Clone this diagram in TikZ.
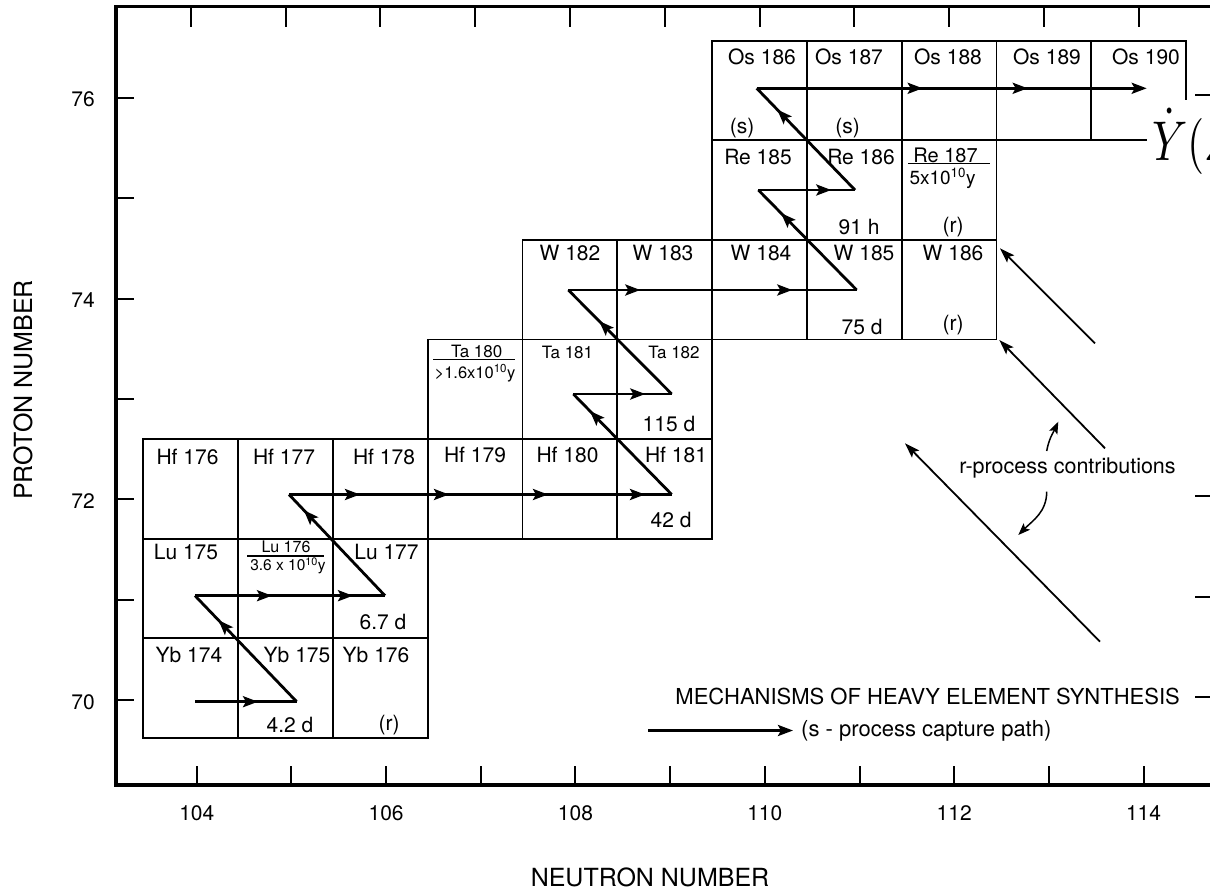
\documentclass[tikz,border=0pt]{standalone}
\usepackage{fontspec}
\setmainfont{TeX Gyre Heros}
\usepackage{graphicx}
\usetikzlibrary{arrows.meta,decorations.markings}
\newcommand{\cellbox}[2]{\draw[cellline] ({143.3+94.8*(#1-104)},{40.7+99.6*(76-#2)}) rectangle ++(94.8,99.6);}
\newcommand{\sah}{\arrow{Stealth[length=15pt,width=11pt,inset=3pt]}}
\newcommand{\seg}[3]{\draw[spath, postaction={decorate}, decoration={markings, #3}] (#1) -- (#2);}
\begin{document}
\begin{tikzpicture}[x=1pt,y=-1pt,
  lab/.style={font=\fontsize{21}{24}\selectfont, inner sep=0pt},
  sml/.style={font=\fontsize{17}{19}\selectfont, inner sep=0pt},
  tinylab/.style={font=\fontsize{15}{17}\selectfont, inner sep=0pt},
  axisline/.style={line width=3.2pt, line join=miter},
  tickline/.style={line width=2pt},
  cellline/.style={line width=1.8pt},
  spath/.style={line width=2.8pt, line cap=butt},
  rarr/.style={line width=1.8pt, -{Stealth[length=15pt,width=10pt,inset=3pt]}},
  rarrthin/.style={line width=1.5pt, -{Stealth[length=12pt,width=9pt,inset=2.5pt]}},
  fracbar/.style={line width=1.2pt}
]
\useasboundingbox (0,0) rectangle (1210,891);
\clip (0,0) rectangle (1210,891);
\fill[white] (0,0) rectangle (1210,891);

% frame
\draw[axisline] (1225,6.7) -- (116,6.7) -- (116,785) -- (1225,785);
\foreach \k in {0,...,10} {
  \draw[tickline] ({190.7+94.8*\k},6.7) -- ++(0,20);
  \draw[tickline] ({196.8+94.67*\k},785) -- ++(0,-19);
}
\foreach \z in {70,...,76} {
  \draw[tickline] (116,{97.7+100.4*(76-\z)}) -- ++(18,0);
}
\foreach \z in {70,71,72,76} {
  \draw[tickline] (1195,{94.7+100.4*(76-\z)}) -- ++(25,0);
}
\foreach \z in {70,72,74,76} {
  \node[lab, anchor=east] (yl\z) at (95,{99.5+100.4*(76-\z)}) {\z};
}
\foreach \n/\k in {104/0,106/2,108/4,110/6,112/8,114/10} {
  \node[lab] (xl\n) at ({196.8+94.67*\k},813) {\n};
}
\node[font=\fontsize{25}{28}\selectfont, rotate=90, inner sep=0pt] (ylab) at (23,390) {PROTON NUMBER};
\node[font=\fontsize{25}{28}\selectfont, inner sep=0pt] (xlab) at (650,877) {NEUTRON NUMBER};

% cells
\foreach \n in {104,105,106} {\cellbox{\n}{70} \cellbox{\n}{71}}
\foreach \n in {104,...,109} {\cellbox{\n}{72}}
\foreach \n in {107,108,109} {\cellbox{\n}{73}}
\foreach \n in {108,...,112} {\cellbox{\n}{74}}
\foreach \n in {110,111,112} {\cellbox{\n}{75}}
\foreach \n in {110,...,113} {\cellbox{\n}{76}}
\draw[cellline] (1091.3,140.3) -- (1091.3,40.7) -- (1186.1,40.7) -- (1186.1,100);
\draw[cellline] (1091.3,140.3) -- (1147,140.3);

% cell labels
\node[lab] (yb174) at (189,655) {Yb 174};
\node[lab] (yb175) at (297,655) {Yb 175};
\node[lab] (yb176) at (376,655) {Yb 176};
\node[lab] (yb175t) at (290,725) {4.2 d};
\node[lab] (yb176r) at (389,725) {(r)};
\node[lab] (lu175) at (186,552) {Lu 175};
\node[font=\fontsize{16}{18}\selectfont, inner sep=0pt] (lu176) at (286,547) {Lu 176};
\draw[fracbar] (247,556) -- (324,556);
\node[font=\fontsize{15.5}{17}\selectfont, inner sep=0pt] (lu176t) at (288,566) {3.6 x 10\textsuperscript{10}y};
\node[lab] (lu177) at (386.5,552) {Lu 177};
\node[lab] (lu177t) at (383,622) {6.7 d};
\node[lab] (hf176) at (187.5,456.5) {Hf 176};
\node[lab] (hf177) at (284,456.5) {Hf 177};
\node[lab] (hf178) at (384,456.5) {Hf 178};
\node[lab] (hf179) at (475,455) {Hf 179};
\node[lab] (hf180) at (567.5,455) {Hf 180};
\node[lab] (hf181) at (676,455) {Hf 181};
\node[lab] (hf181t) at (671,520) {42 d};
\node[sml] (ta180) at (476.7,351) {Ta 180};
\draw[fracbar] (433,359.5) -- (515,359.5);
\node[font=\fontsize{16.5}{18}\selectfont, inner sep=0pt] (ta180t) at (475,373) {>1.6x10\textsuperscript{10}y};
\node[sml] (ta181) at (567.5,352.7) {Ta 181};
\node[sml] (ta182) at (674,352.7) {Ta 182};
\node[lab] (ta182t) at (669,424) {115 d};
\node[lab] (w182) at (570,253.3) {W 182};
\node[lab] (w183) at (663,253.3) {W 183};
\node[lab] (w184) at (761,253.3) {W 184};
\node[lab] (w185) at (864,253.3) {W 185};
\node[lab] (w186) at (953,253.3) {W 186};
\node[lab] (w185t) at (862,326.7) {75 d};
\node[lab] (w186r) at (953,325) {(r)};
\node[lab] (re185) at (758,156.7) {Re 185};
\node[lab] (re186) at (861,156.7) {Re 186};
\node[font=\fontsize{20}{22}\selectfont, inner sep=0pt] (re187) at (945.5,155) {Re 187};
\draw[fracbar] (908,163.3) -- (990,163.3);
\node[font=\fontsize{19}{21}\selectfont, inner sep=0pt] (re187t) at (942.5,178.3) {5x10\textsuperscript{10}y};
\node[lab] (re186t) at (859,226.7) {91 h};
\node[lab] (re187r) at (953,226.7) {(r)};
\node[lab] (os186) at (762,57.3) {Os 186};
\node[lab] (os187) at (849,57.3) {Os 187};
\node[lab] (os188) at (948,57.3) {Os 188};
\node[lab] (os189) at (1047,57.3) {Os 189};
\node[lab] (os190) at (1146,57.3) {Os 190};
\node[lab] (os186s) at (742,128.3) {(s)};
\node[lab] (os187s) at (847.5,128.3) {(s)};

% s-process path
\coordinate (P0) at (195,701.7);
\coordinate (P1) at (296.7,701.7);
\coordinate (P2) at (195,595.7);
\coordinate (P3) at (385,595.7);
\coordinate (P4) at (289,494.5);
\coordinate (P5) at (671.7,494.5);
\coordinate (P6) at (573.3,394);
\coordinate (P7) at (671.7,394);
\coordinate (P8) at (568.3,290);
\coordinate (P9) at (856.7,290);
\coordinate (P10) at (758.3,190);
\coordinate (P11) at (855,190);
\coordinate (P12) at (756.7,88.3);
\coordinate (P13) at (1146.7,88.3);
\seg{P0}{P1}{mark=at position 63pt with {\sah}}
\seg{P1}{P2}{mark=at position 113pt with {\sah}}
\seg{P2}{P3}{mark=at position 77pt with {\sah}, mark=at position 158pt with {\sah}}
\seg{P3}{P4}{mark=at position 118pt with {\sah}}
\seg{P4}{P5}{mark=at position 71pt with {\sah}, mark=at position 160pt with {\sah}, mark=at position 259pt with {\sah}, mark=at position 356pt with {\sah}}
\seg{P5}{P6}{mark=at position 117pt with {\sah}}
\seg{P6}{P7}{mark=at position 72pt with {\sah}}
\seg{P7}{P8}{mark=at position 103pt with {\sah}}
\seg{P8}{P9}{mark=at position 72pt with {\sah}, mark=at position 224pt with {\sah}}
\seg{P9}{P10}{mark=at position 108pt with {\sah}}
\seg{P10}{P11}{mark=at position 73pt with {\sah}}
\seg{P11}{P12}{mark=at position 112pt with {\sah}}
\draw[spath, -{Stealth[length=15pt,width=11pt,inset=3pt]}, postaction={decorate}, decoration={markings, mark=at position 166pt with {\sah}, mark=at position 271pt with {\sah}}] (P12) -- (P13);

% r-process arrows
\coordinate (r1s) at (1095,343.3);
\coordinate (r1e) at (1000,248.3);
\coordinate (r2s) at (1105,448.3);
\coordinate (r2e) at (999.3,340);
\coordinate (r3s) at (1100,641.7);
\coordinate (r3e) at (905,443.3);
\draw[rarr] (r1s) -- (r1e);
\draw[rarr] (r2s) -- (r2e);
\draw[rarr] (r3s) -- (r3e);
\node[font=\fontsize{21.5}{24}\selectfont, inner sep=0pt] (rtext) at (1067.5,468.3) {r-process contributions};
\coordinate (c1s) at (1046.7,451);
\coordinate (c1e) at (1058.3,421.7);
\coordinate (c2s) at (1046.7,491.7);
\coordinate (c2e) at (1018.3,535);
\draw[rarrthin] (c1s) to[out=80,in=-115] (c1e);
\draw[rarrthin] (c2s) to[out=-90,in=45] (c2e);

% legend
\node[font=\fontsize{22}{24}\selectfont, inner sep=0pt, anchor=east] (mech) at (1180,696) {MECHANISMS OF HEAVY ELEMENT SYNTHESIS};
\coordinate (lg1) at (648,730.5);
\coordinate (lg2) at (793,730.5);
\draw[spath, -{Stealth[length=15pt,width=11pt,inset=3pt]}] (lg1) -- (lg2);
\node[font=\fontsize{22}{24}\selectfont, inner sep=0pt, anchor=west] (lgt) at (801,730.7) {(s - process capture path)};

% overlay text
\node[anchor=base west, inner sep=0pt] (ydot) at (1152,160) {\scalebox{4.4}[5.6]{$\dot{Y}(Z$}};
\end{tikzpicture}
\end{document}
